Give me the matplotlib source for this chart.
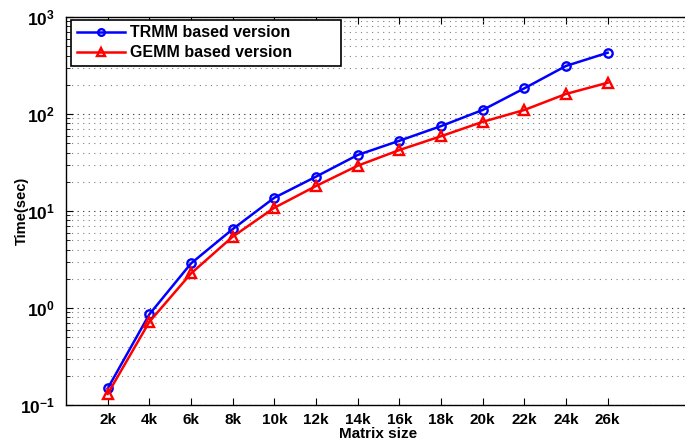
import matplotlib.pyplot as plt
import numpy as np
from matplotlib.ticker import FuncFormatter, LogLocator

plt.rcParams['font.family'] = 'Liberation Sans'
plt.rcParams['font.weight'] = 'bold'
plt.rcParams['mathtext.fontset'] = 'custom'
plt.rcParams['mathtext.rm'] = 'Liberation Sans:bold'
plt.rcParams['mathtext.bf'] = 'Liberation Sans:bold'

# matrix sizes (k)
sizes = [2, 4, 6, 8, 10, 12, 14, 16, 18, 20, 22, 24, 26]
size_labels = ['2k', '4k', '6k', '8k', '10k', '12k', '14k', '16k', '18k', '20k', '22k', '24k', '26k']

trmm = [0.148, 0.86, 2.88, 6.5, 13.7, 22.6, 37.8, 53, 75, 110, 184, 313, 428]
gemm = [0.13, 0.72, 2.27, 5.43, 10.8, 18.1, 29.3, 42.5, 59, 83, 110, 161, 210]

fig = plt.figure(figsize=(6.85, 4.42), dpi=100)
ax = fig.add_axes([66/685, 37/442, 625/685, 388/442])

ax.plot(sizes, trmm, color='blue', marker='o', mfc='none', mew=1.7, ms=6, lw=1.8,
        label='TRMM based version')
ax.plot(sizes, gemm, color='red', marker='^', mfc='none', mew=1.7, ms=7, lw=1.8,
        label='GEMM based version')

ax.set_yscale('log')
ax.set_ylim(0.1, 1000)
ax.set_xlim(0, 30)
ax.set_xticks(sizes)
ax.set_xticklabels(size_labels)
ax.yaxis.set_major_locator(LogLocator(base=10, numticks=10))
ax.yaxis.set_major_formatter(FuncFormatter(lambda v, p: r'$\mathbf{10^{%d}}$' % round(np.log10(v))))

ax.tick_params(which='both', direction='in', top=True, right=True)
ax.tick_params(axis='x', labelsize=11, pad=6)
ax.tick_params(axis='y', labelsize=12.5, pad=8)
ax.tick_params(which='major', length=5, width=0.8)
ax.tick_params(which='minor', length=3, width=0.6)
ax.grid(True, which='major', axis='y', linestyle=(0, (1, 4)), color='0.15', lw=0.8)
ax.grid(True, which='minor', axis='y', linestyle=(0, (1, 4)), color='0.5', lw=0.8)
for s in ax.spines.values():
    s.set_linewidth(1.0)

ax.set_xlabel('Matrix size', fontsize=11, fontweight='bold', labelpad=0)
ax.set_ylabel('Time(sec)', fontsize=10.5, fontweight='bold')
ax.yaxis.set_label_coords(-0.06, 0.5)

leg = ax.legend(loc='upper left', fontsize=11.5, fancybox=False, edgecolor='black',
                framealpha=1, bbox_to_anchor=(0.008, 0.993, 0.432, 0.0), mode='expand',
                borderaxespad=0, handlelength=3.0, handletextpad=0.35,
                labelspacing=0.3, borderpad=0.35, markerscale=0.8)
leg.get_frame().set_linewidth(1.2)

fig.savefig('out.png', dpi=100)
